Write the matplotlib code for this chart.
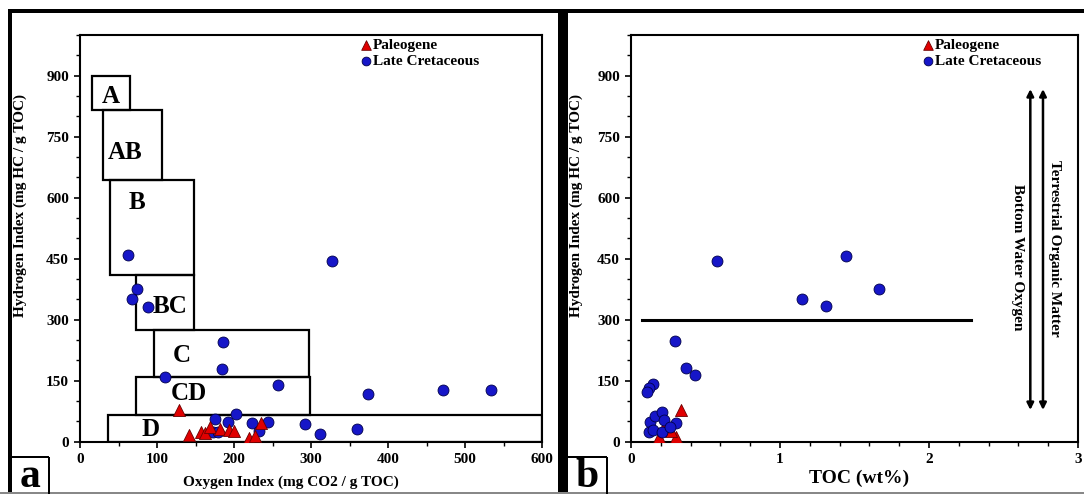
import matplotlib
matplotlib.use('Agg')
import matplotlib.pyplot as plt
from matplotlib.patches import Rectangle
from matplotlib.lines import Line2D
from matplotlib.ticker import MultipleLocator

plt.rcParams['font.family'] = ['Liberation Serif', 'DejaVu Serif']
plt.rcParams['font.weight'] = 'bold'

# ---------------- data ----------------
# Panel a: Oxygen Index vs Hydrogen Index
oi_cret = [62, 74, 68, 88, 186, 184, 111, 257, 203, 175, 192, 223, 244, 173, 179,
           233, 292, 312, 327, 374, 471, 534, 360]
hi_cret_a = [458, 376, 351, 331, 246, 178, 160, 140, 69, 55, 49, 46, 49, 23, 23,
             26, 43, 20, 444, 118, 127, 128, 31]
oi_paleo = [128, 142, 157, 162, 169, 182, 194, 200, 219, 227, 235]
hi_paleo_a = [78, 16, 25, 22, 36, 31, 29, 26, 10, 13, 46]

# Panel b: TOC vs Hydrogen Index
toc_cret = [0.575, 1.146, 1.31, 1.443, 1.664, 0.295, 0.37, 0.43, 0.15, 0.12, 0.105,
            0.13, 0.16, 0.21, 0.22, 0.30, 0.12, 0.15, 0.21, 0.26]
hi_cret_b = [444, 351, 333, 457, 376, 248, 181, 163, 142, 131, 121,
             49, 62, 72, 54, 47, 25, 29, 25, 37]
toc_paleo = [0.335, 0.19, 0.30, 0.24, 0.22, 0.27]
hi_paleo_b = [78, 12, 12, 29, 35, 26]

# Kerogen fields (panel a)
box_labels = ['A', 'AB', 'B', 'BC', 'C', 'CD', 'D']
box_oi_min = [16, 30, 39, 73, 96, 73, 37]
box_oi_max = [65, 107, 148, 148, 298, 299, 600]
box_hi_min = [815, 643, 411, 275, 158, 66, 0]
box_hi_max = [900, 815, 643, 411, 275, 158, 66]
label_oi = [40, 58, 74, 117, 132, 142, 92]
label_hi = [850, 712, 588, 332, 211, 119, 29]

toc_cutoff_line = [0.074, 2.28]
hi_cutoff = 300
yticks = [0, 150, 300, 450, 600, 750, 900]

# ---------------- figure ----------------
W, H = 1084, 494
fig = plt.figure(figsize=(W / 100, H / 100), dpi=100)


def fx(px):
    return px / W


def fy(py):
    return 1 - py / H


ax_a = fig.add_axes([fx(80), fy(441.7), fx(542) - fx(80), fy(35) - fy(441.7)])
ax_b = fig.add_axes([fx(631), fy(441.7), fx(1078) - fx(631), fy(35) - fy(441.7)])

blue_fc, blue_ec = '#1616c8', '#00004a'
red_fc, red_ec = '#e00000', '#6a0000'
tick_fs = 11

for ax in (ax_a, ax_b):
    ax.set_ylim(0, 1000)
    ax.set_yticks(yticks)
    ax.yaxis.set_minor_locator(MultipleLocator(50))
    for s in ax.spines.values():
        s.set_linewidth(1.5)
    ax.tick_params(which='major', direction='out', length=4, width=1.2,
                   labelsize=tick_fs, pad=4)
    ax.tick_params(which='minor', direction='out', length=3, width=1.0)
    for lab in ax.get_xticklabels() + ax.get_yticklabels():
        lab.set_fontweight('bold')
    ax.set_ylabel('Hydrogen Index (mg HC / g TOC)', fontsize=11, fontweight='bold')

# Panel a
ax_a.set_xlim(0, 600)
ax_a.xaxis.set_major_locator(MultipleLocator(100))
ax_a.xaxis.set_minor_locator(MultipleLocator(50))
for lab, x0, x1, y0, y1, lx, ly in zip(box_labels, box_oi_min, box_oi_max,
                                        box_hi_min, box_hi_max, label_oi, label_hi):
    ax_a.add_patch(Rectangle((x0, y0), x1 - x0, y1 - y0, fill=False,
                             edgecolor='black', linewidth=1.6, zorder=2))
    ax_a.text(lx, ly, lab, fontsize=18, fontweight='bold', ha='center',
              va='center', zorder=3)
ax_a.scatter(oi_cret, hi_cret_a, s=62, marker='o', facecolor=blue_fc,
             edgecolor=blue_ec, linewidth=0.6, zorder=4, label='Late Cretaceous')
ax_a.scatter(oi_paleo, hi_paleo_a, s=75, marker='^', facecolor=red_fc,
             edgecolor=red_ec, linewidth=0.6, zorder=5, label='Paleogene')
ax_a.set_xlabel('Oxygen Index (mg CO2 / g TOC)', fontsize=11, fontweight='bold')
ax_a.xaxis.set_label_coords(0.457, -0.082)
ax_a.yaxis.set_label_coords(-0.115, 0.58)

# Panel b
ax_b.set_xlim(0, 3)
ax_b.xaxis.set_major_locator(MultipleLocator(1))
ax_b.xaxis.set_minor_locator(MultipleLocator(0.2))
ax_b.plot(toc_cutoff_line, [hi_cutoff, hi_cutoff], color='black', linewidth=2.2, zorder=2)
ax_b.scatter(toc_paleo, hi_paleo_b, s=75, marker='^', facecolor=red_fc,
             edgecolor=red_ec, linewidth=0.6, zorder=4, label='Paleogene')
ax_b.scatter(toc_cret, hi_cret_b, s=62, marker='o', facecolor=blue_fc,
             edgecolor=blue_ec, linewidth=0.6, zorder=5, label='Late Cretaceous')
for xa in (2.68, 2.765):
    ax_b.annotate('', xy=(xa, 78), xytext=(xa, 867),
                  arrowprops=dict(arrowstyle='<|-|>', color='black', lw=1.8,
                                  mutation_scale=10, shrinkA=0, shrinkB=0))
ax_b.text(2.595, 453, 'Bottom Water Oxygen', rotation=-90, fontsize=11,
          fontweight='bold', ha='center', va='center')
ax_b.text(2.845, 475, 'Terrestrial Organic Matter', rotation=-90, fontsize=11,
          fontweight='bold', ha='center', va='center')
ax_b.set_xlabel('TOC (wt%)', fontsize=14, fontweight='bold')
ax_b.xaxis.set_label_coords(0.511, -0.068)
ax_b.yaxis.set_label_coords(-0.107, 0.58)

# Legends
for ax, xanchor in ((ax_a, 0.603), (ax_b, 0.647)):
    h, l = ax.get_legend_handles_labels()
    order = [l.index('Paleogene'), l.index('Late Cretaceous')]
    leg = ax.legend([h[i] for i in order], [l[i] for i in order], loc='upper left',
                    bbox_to_anchor=(xanchor, 1.0), frameon=False, handlelength=0.6,
                    handletextpad=0.15, labelspacing=0.15, borderpad=0.1,
                    borderaxespad=0.1, markerscale=0.8,
                    prop={'family': 'Liberation Serif', 'weight': 'bold', 'size': 11})

# Outer frames
def fig_line(x0, y0, x1, y1, lw_px, color='black'):
    fig.add_artist(Line2D([fx(x0), fx(x1)], [fy(y0), fy(y1)], color=color,
                          linewidth=lw_px * 0.72, transform=fig.transFigure,
                          solid_capstyle='butt'))

fig_line(8, 11, 1084, 11, 4)        # top
fig_line(10, 9, 10, 494, 4)         # left
fig_line(563, 9, 563, 494, 10)      # separator
fig_line(0, 493, 1084, 493, 2, color='#888888')  # bottom

# Panel letter boxes
fig_line(10, 457, 49, 457, 2)
fig_line(49, 457, 49, 494, 2)
fig_line(568, 457, 607, 457, 2)
fig_line(607, 457, 607, 494, 2)
fig.text(fx(30), fy(477), 'a', fontsize=30, fontweight='bold', ha='center', va='center')
fig.text(fx(587), fy(477), 'b', fontsize=30, fontweight='bold', ha='center', va='center')

fig.savefig('out.png', dpi=100)
